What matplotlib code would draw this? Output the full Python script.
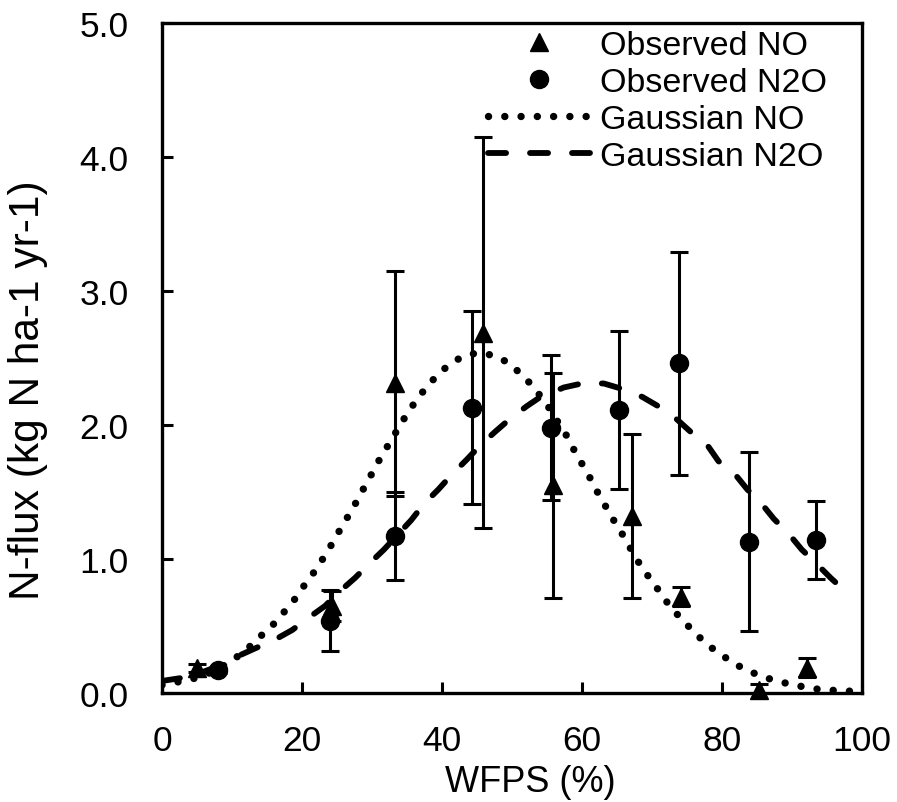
import numpy as np
import matplotlib.pyplot as plt
from matplotlib.lines import Line2D

plt.rcParams['font.family'] = ['Liberation Sans', 'DejaVu Sans']

# observed NO (triangles)
no_x = [5.0, 24.3, 33.3, 45.9, 55.9, 67.2, 74.2, 85.3, 92.2]
no_y = [0.19, 0.65, 2.31, 2.69, 1.55, 1.32, 0.72, 0.02, 0.19]
no_err = [0.03, 0.11, 0.84, 1.46, 0.84, 0.61, 0.07, 0.05, 0.07]

# observed N2O (circles)
n2o_x = [8.0, 24.0, 33.3, 44.3, 55.5, 65.3, 73.9, 83.9, 93.4]
n2o_y = [0.17, 0.54, 1.17, 2.13, 1.98, 2.11, 2.46, 1.13, 1.14]
n2o_err = [0.02, 0.23, 0.33, 0.72, 0.54, 0.59, 0.83, 0.67, 0.29]

# gaussian NO curve
gno_x = [0, 2, 4, 6, 8, 10, 12.4, 14.0, 15.7, 17.2, 18.7, 20.0, 21.3, 22.6, 23.8,
         24.9, 26.0, 27.2, 28.3, 29.4, 30.5, 31.6, 32.8, 33.9, 35.1, 36.4, 37.9,
         39.3, 41.0, 42.9, 45.1, 47.3, 49.3, 51.1, 52.6, 54.0, 55.4, 56.7, 57.8,
         58.9, 60.0, 61.2, 62.2, 63.3, 64.4, 65.6, 66.8, 67.9, 69.2, 70.5, 71.8,
         73.2, 74.8, 76.3, 77.9, 79.8, 81.7, 83.6, 85.8, 87.9, 90.1, 92.4, 94.6,
         96.9, 99.1]
gno_y = [0.06, 0.08, 0.10, 0.13, 0.18, 0.24, 0.34, 0.42, 0.50, 0.59, 0.68, 0.78,
         0.87, 0.97, 1.07, 1.17, 1.27, 1.37, 1.48, 1.58, 1.69, 1.79, 1.89, 1.99,
         2.09, 2.19, 2.29, 2.37, 2.45, 2.51, 2.54, 2.52, 2.47, 2.39, 2.31, 2.22,
         2.12, 2.01, 1.92, 1.81, 1.71, 1.60, 1.50, 1.40, 1.30, 1.20, 1.09, 0.99,
         0.89, 0.80, 0.70, 0.61, 0.52, 0.44, 0.36, 0.29, 0.22, 0.17, 0.12, 0.09,
         0.06, 0.04, 0.02, 0.02, 0.01]

# gaussian N2O curve
gn2o_x = [0, 2.5, 5, 7.5, 10.2, 13.6, 16.2, 18.6, 20.9, 23.3, 25.2, 27.6, 29.5,
          31.7, 34.0, 35.6, 37.4, 39.5, 41.4, 43.5, 45.5, 47.6, 49.8, 52.1, 53.8,
          57.4, 60.0, 63.1, 65.7, 68.6, 70.9, 73.6, 75.5, 77.9, 79.5, 81.9, 83.6,
          85.7, 87.4, 89.5, 91.4, 93.6, 95.5, 97.8]
gn2o_y = [0.09, 0.11, 0.14, 0.19, 0.26, 0.34, 0.40, 0.47, 0.56, 0.65, 0.75, 0.86,
          0.96, 1.07, 1.20, 1.29, 1.41, 1.52, 1.63, 1.74, 1.85, 1.95, 2.05, 2.14,
          2.20, 2.28, 2.31, 2.31, 2.27, 2.21, 2.14, 2.04, 1.95, 1.85, 1.73, 1.63,
          1.52, 1.41, 1.30, 1.19, 1.07, 0.96, 0.86, 0.75]

fig, ax = plt.subplots(figsize=(8.97, 8.03), dpi=100)
fig.subplots_adjust(left=162/897, right=862/897, bottom=1-694/803, top=1-24/803)

dot_style = (0, (0.01, 2.2))
dash_style = (0, (3.1, 4.1))

ax.plot(gno_x, gno_y, color='black', lw=5.3, linestyle=dot_style,
        dash_capstyle='round')
ax.plot(gn2o_x, gn2o_y, color='black', lw=4.2, linestyle=dash_style,
        dash_capstyle='round')

ax.errorbar(no_x, no_y, yerr=no_err, fmt='none', ecolor='black',
            elinewidth=2.2, capsize=6.5, capthick=2.2)
ax.errorbar(n2o_x, n2o_y, yerr=n2o_err, fmt='none', ecolor='black',
            elinewidth=2.2, capsize=6.5, capthick=2.2)
ax.plot(no_x, no_y, '^', color='black', ms=13, clip_on=False, zorder=5)
ax.plot(n2o_x, n2o_y, 'o', color='black', ms=13, clip_on=False, zorder=5)

ax.set_xlim(0, 100)
ax.set_ylim(0, 5)
ax.set_xticks(np.arange(0, 101, 20))
yt = np.arange(0, 5.01, 1.0)
ax.set_yticks(yt)
ax.set_yticklabels([f'{v:.1f}' for v in yt])
ax.tick_params(direction='in', length=8, width=2.2, labelsize=25.5)
ax.tick_params(axis='x', pad=22)
ax.tick_params(axis='y', pad=24)
for s in ax.spines.values():
    s.set_linewidth(2.4)

ax.set_xlabel('WFPS (%)', fontsize=26)
ax.xaxis.set_label_coords(0.526, -0.106)
ax.set_ylabel('N-flux (kg N ha-1 yr-1)', fontsize=30.5)
ax.yaxis.set_label_coords(-0.163, 0.454)

handles = [
    Line2D([], [], marker='^', color='black', ms=13, linestyle='none'),
    Line2D([], [], marker='o', color='black', ms=13, linestyle='none'),
    Line2D([], [], color='black', lw=5.3, linestyle=dot_style,
           dash_capstyle='round'),
    Line2D([], [], color='black', lw=4.2, linestyle=dash_style,
           dash_capstyle='round'),
]
labels = ['Observed NO', 'Observed N2O', 'Gaussian NO', 'Gaussian N2O']
ax.legend(handles, labels, loc='upper left', bbox_to_anchor=(0.466, 0.99),
          frameon=False, fontsize=24.5, borderpad=0, borderaxespad=0,
          handlelength=3.0, handletextpad=0.3, labelspacing=0.18)

fig.savefig('out.png', dpi=100)
